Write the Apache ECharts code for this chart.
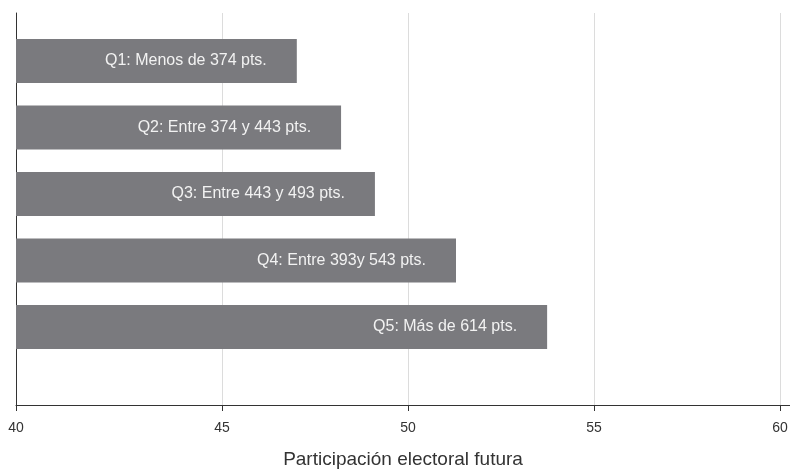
<!DOCTYPE html>
<html>
<head>
<meta charset="utf-8">
<script src="https://cdn.jsdelivr.net/npm/echarts@6/dist/echarts.min.js"></script>
<style>
html,body{margin:0;padding:0;background:#fff;}
#chart{width:790px;height:469px;}
</style>
</head>
<body>
<div id="chart"></div>
<script>
// Data
const categories = ['Q1: Menos de 374 pts.', 'Q2: Entre 374 y 443 pts.', 'Q3: Entre 443 y 493 pts.', 'Q4: Entre 393y 543 pts.', 'Q5: Más de 614 pts.'];
const values = [47.01, 48.2, 49.11, 51.29, 53.74];
const tickValues = [39.46, 45, 50, 55, 60];
const tickLabels = ['40', '45', '50', '55', '60'];
const axisName = 'Participación electoral futura';

const xMin = 39.46, xMax = 60.27;
const chart = echarts.init(document.getElementById('chart'), null, {renderer: 'canvas'});
const font = 'Liberation Sans, Arial, sans-serif';
chart.setOption({
  animation: false,
  grid: [
    {left: 16, right: 0, top: 27.75, bottom: 108.75, outerBoundsMode: 'none', containLabel: false},
    {left: 16, right: 0, top: 13, bottom: 64, outerBoundsMode: 'none', containLabel: false}
  ],
  xAxis: [
    {gridIndex: 0, type: 'value', min: xMin, max: xMax, show: false},
    {
      gridIndex: 1, type: 'value', min: xMin, max: xMax,
      name: axisName, nameLocation: 'middle', nameGap: 45,
      nameTextStyle: {fontFamily: font, fontSize: 19, color: '#333'},
      axisLine: {show: true, onZero: false, lineStyle: {color: '#333', width: 1}},
      axisTick: {show: true, length: 6, customValues: tickValues, lineStyle: {color: '#333'}},
      axisLabel: {
        customValues: tickValues, margin: 16,
        fontFamily: font, fontSize: 14, color: '#333',
        formatter: function (v) { const i = tickValues.indexOf(v); return i >= 0 ? tickLabels[i] : ''; }
      },
      splitLine: {show: true, lineStyle: {color: '#dcdcdc', width: 1}}
    }
  ],
  yAxis: [
    {gridIndex: 0, type: 'category', data: categories, inverse: true, show: false},
    {
      gridIndex: 1, type: 'value', min: 0, max: 1,
      axisLine: {show: true, onZero: false, lineStyle: {color: '#333', width: 1}},
      axisTick: {show: false}, axisLabel: {show: false}, splitLine: {show: false}
    }
  ],
  series: [{
    type: 'bar',
    xAxisIndex: 0, yAxisIndex: 0,
    data: values,
    barWidth: 44,
    itemStyle: {color: '#7a7a7e'},
    label: {
      show: true, position: 'insideRight', distance: 30,
      formatter: function (p) { return categories[p.dataIndex]; },
      fontFamily: font, fontSize: 16, color: '#f2f2f2'
    },
    z: 3
  }]
});
</script>
</body>
</html>
